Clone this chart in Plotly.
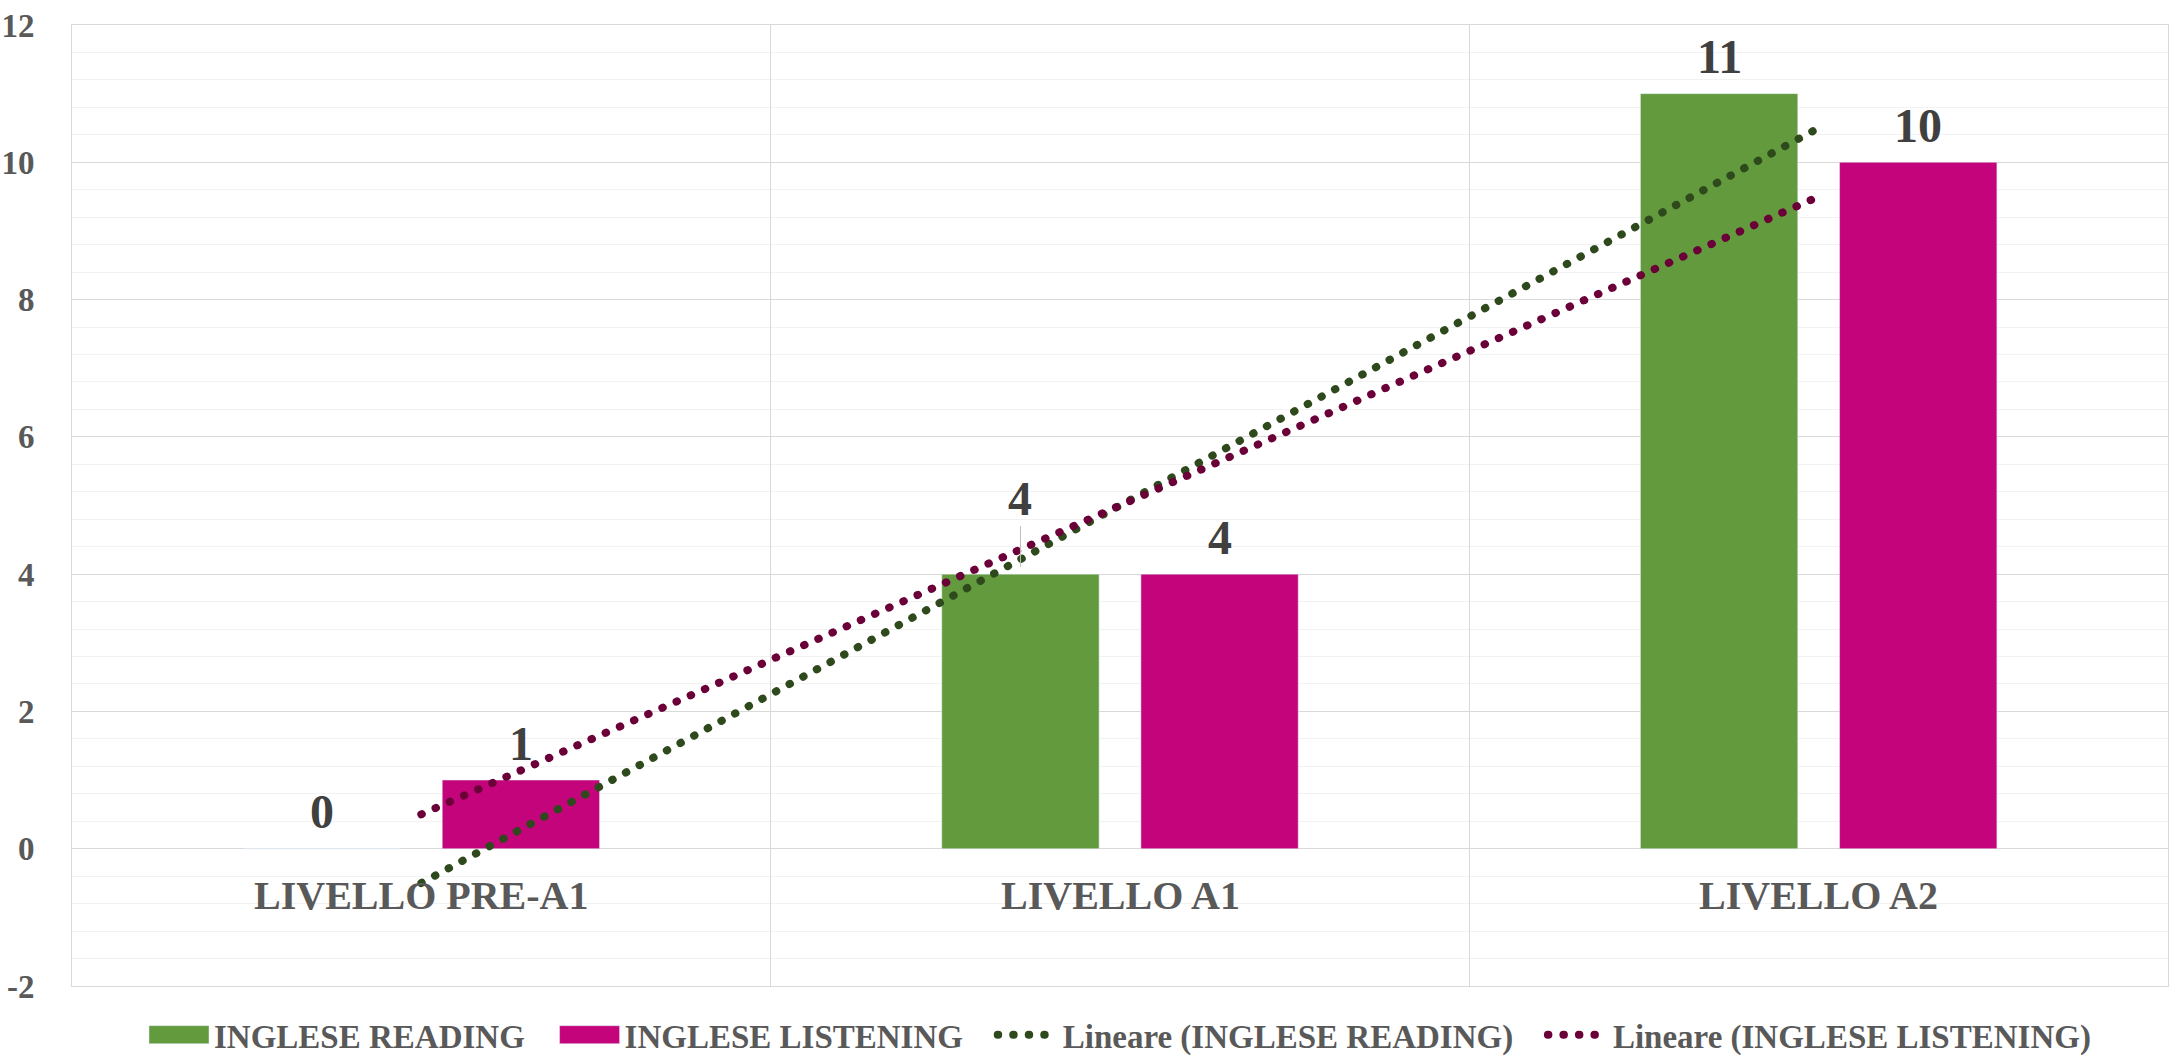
import numpy as np
import plotly.graph_objects as go

categories = ["LIVELLO PRE-A1", "LIVELLO A1", "LIVELLO A2"]
reading = [0, 4, 11]
listening = [1, 4, 10]
series_names = ["INGLESE READING", "INGLESE LISTENING"]
trend_names = ["Lineare (INGLESE READING)", "Lineare (INGLESE LISTENING)"]
y_ticks = [-2, 0, 2, 4, 6, 8, 10, 12]
y_tick_text = ["-2", "0", "2", "4", "6", "8", "10", "12"]

GREEN = "#629a3d"
PINK = "#c3047b"
GREEN_T = "#2e4a1c"
PINK_T = "#6b0038"
FONT = "Liberation Serif"
AX_COL = "#595959"
LBL_COL = "#404040"
GRID = "#d9d9d9"

bargap = 0.43
bargroupgap = 0.21
PAD = "\u00a0\u00a0\u00a0"

xi = np.arange(1, len(categories) + 1)
fit_r = np.polyval(np.polyfit(xi, reading, 1), xi)
fit_l = np.polyval(np.polyfit(xi, listening, 1), xi)

fig = go.Figure()
fig.add_trace(go.Bar(x=categories, y=reading, name=series_names[0] + PAD, marker_color=GREEN))
fig.add_trace(go.Bar(x=categories, y=listening, name=series_names[1] + PAD, marker_color=PINK))
fig.add_trace(go.Scatter(x=categories, y=fit_r, mode="lines", name=trend_names[0] + PAD,
                         line=dict(color=GREEN_T, width=8, dash="0.5px,15px")))
fig.add_trace(go.Scatter(x=categories, y=fit_l, mode="lines", name=trend_names[1],
                         line=dict(color=PINK_T, width=8, dash="0.5px,15px")))

off = (1 - bargap) / 4
ann = []
for i, c in enumerate(categories):
    ann.append(dict(x=i, y=0, xref="x", yref="y", text=c, showarrow=False, yanchor="top", yshift=-22,
                    font=dict(family=FONT, size=40, color=AX_COL, weight="bold")))
    for val, sgn in ((reading[i], -1), (listening[i], 1)):
        a = dict(x=i + sgn * off, y=val, xref="x", yref="y", text=str(val),
                 font=dict(family=FONT, size=48, color=LBL_COL, weight="bold"))
        if sgn == -1 and i == 1:
            a.update(showarrow=True, arrowhead=0, arrowwidth=1, arrowcolor="#bfbfbf", ax=0, ay=-76, standoff=7)
        else:
            a.update(showarrow=False, yanchor="middle", yshift=37)
        ann.append(a)

fig.update_layout(
    width=2170, height=1058,
    margin=dict(l=72, r=2, t=25, b=72, autoexpand=False),
    paper_bgcolor="white", plot_bgcolor="white",
    barmode="group", bargap=bargap, bargroupgap=bargroupgap,
    font=dict(family=FONT, color=AX_COL, weight="bold"),
    showlegend=True,
    legend=dict(orientation="h", x=0.5, xanchor="center", y=0.022, yref="container", yanchor="middle",
                font=dict(family=FONT, size=33, color=AX_COL, weight="bold"),
                itemwidth=60, tracegroupgap=0, traceorder="normal"),
    annotations=ann,
    xaxis=dict(showticklabels=False, tickson="boundaries", showgrid=True, gridcolor=GRID, gridwidth=1,
               showline=True, linecolor=GRID, mirror=True, ticks="", zeroline=False, automargin=False),
    yaxis=dict(range=[-2, 12], tickvals=y_ticks, ticktext=y_tick_text, showgrid=True, gridcolor=GRID,
               gridwidth=1, minor=dict(dtick=0.4, showgrid=True, gridcolor="#f2f2f2", gridwidth=1),
               showline=True, linecolor=GRID, mirror=True, zeroline=False, ticks="", automargin=False,
               tickfont=dict(family=FONT, size=33, color=AX_COL, weight="bold"), ticklabelstandoff=30),
)

post = """
document.body.style.margin='0';
document.body.style.overflow='hidden';
function fixLegend(){
  document.querySelectorAll('path.js-line').forEach(function(p){p.style.strokeLinecap='round';});
  document.querySelectorAll('.legend .legendpoints path').forEach(function(p){
    if(p.getAttribute('d')==='M6,6H-6V-6H6Z'){p.setAttribute('d','M30,9H-30V-9H30Z');}
  });
}
fixLegend();
var gd=document.querySelector('.js-plotly-plot'); if(gd&&gd.on){gd.on('plotly_afterplot',fixLegend);}
"""
fig.write_html("out.html", post_script=post, config={"displayModeBar": False})
